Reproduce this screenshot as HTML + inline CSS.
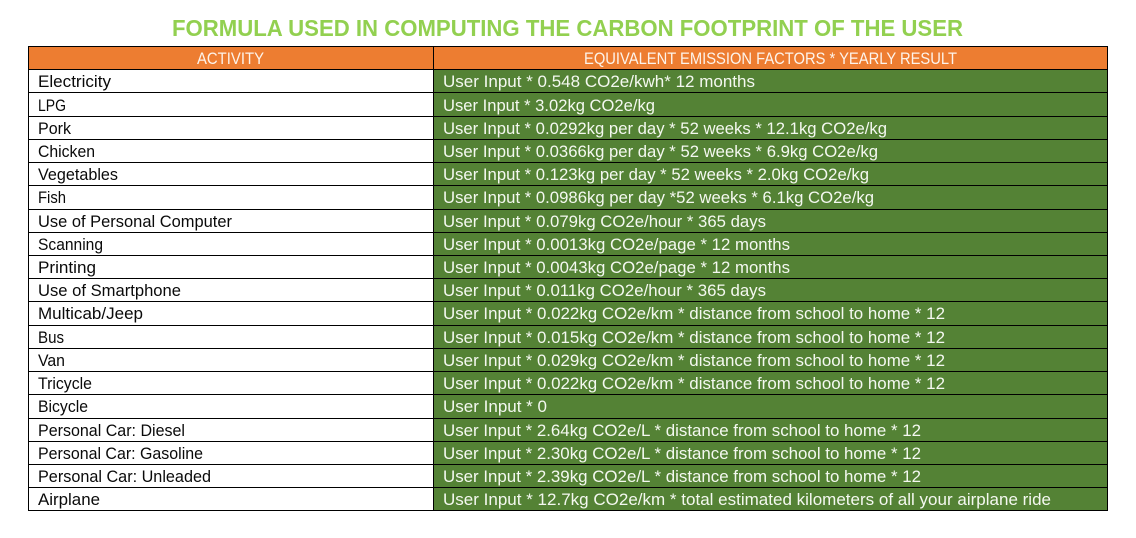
<!DOCTYPE html>
<html>
<head>
<meta charset="utf-8">
<title>Formula used in computing the carbon footprint of the user</title>
<style>
html,body{margin:0;padding:0;background:#fff;width:1136px;height:538px;overflow:hidden}
svg{display:block}
text{font-family:"Liberation Sans",sans-serif}
.t{font-size:17px;fill:#0a0a0a}
.f{font-size:17px;fill:#f4f8f0}
.h{font-size:17px;fill:#fdf3ea}
.line{stroke:#000;stroke-width:1;shape-rendering:crispEdges}
</style>
</head>
<body>
<svg xmlns="http://www.w3.org/2000/svg" width="1136" height="538" viewBox="0 0 1136 538">
<text x="172" y="36" font-size="23.5" font-weight="700" fill="#92d050" textLength="791" lengthAdjust="spacingAndGlyphs">FORMULA USED IN COMPUTING THE CARBON FOOTPRINT OF THE USER</text>

<rect x="28" y="46" width="1080" height="23" fill="#ed7d31"/>
<rect x="433" y="69" width="675" height="441" fill="#548235"/>

<g>
<line class="line" x1="28" x2="1108" y1="46.5" y2="46.5"/>
<line class="line" x1="28" x2="1108" y1="69.5" y2="69.5"/>
<line class="line" x1="28" x2="1108" y1="92.5" y2="92.5"/>
<line class="line" x1="28" x2="1108" y1="116.5" y2="116.5"/>
<line class="line" x1="28" x2="1108" y1="139.5" y2="139.5"/>
<line class="line" x1="28" x2="1108" y1="162.5" y2="162.5"/>
<line class="line" x1="28" x2="1108" y1="185.5" y2="185.5"/>
<line class="line" x1="28" x2="1108" y1="209.5" y2="209.5"/>
<line class="line" x1="28" x2="1108" y1="232.5" y2="232.5"/>
<line class="line" x1="28" x2="1108" y1="255.5" y2="255.5"/>
<line class="line" x1="28" x2="1108" y1="278.5" y2="278.5"/>
<line class="line" x1="28" x2="1108" y1="301.5" y2="301.5"/>
<line class="line" x1="28" x2="1108" y1="325.5" y2="325.5"/>
<line class="line" x1="28" x2="1108" y1="348.5" y2="348.5"/>
<line class="line" x1="28" x2="1108" y1="371.5" y2="371.5"/>
<line class="line" x1="28" x2="1108" y1="394.5" y2="394.5"/>
<line class="line" x1="28" x2="1108" y1="418.5" y2="418.5"/>
<line class="line" x1="28" x2="1108" y1="441.5" y2="441.5"/>
<line class="line" x1="28" x2="1108" y1="464.5" y2="464.5"/>
<line class="line" x1="28" x2="1108" y1="487.5" y2="487.5"/>
<line class="line" x1="28" x2="1108" y1="510.5" y2="510.5"/>
<line class="line" x1="28.5" x2="28.5" y1="46" y2="511"/>
<line class="line" x1="433.5" x2="433.5" y1="46" y2="511"/>
<line class="line" x1="1107.5" x2="1107.5" y1="46" y2="511"/>
</g>

<text class="h" x="197" y="64" textLength="67" lengthAdjust="spacingAndGlyphs">ACTIVITY</text>
<text class="h" x="584" y="64" textLength="373" lengthAdjust="spacingAndGlyphs">EQUIVALENT EMISSION FACTORS * YEARLY RESULT</text>

<g>
<text class="t" x="38" y="87" textLength="73" lengthAdjust="spacingAndGlyphs">Electricity</text>
<text class="t" x="38" y="111" textLength="28" lengthAdjust="spacingAndGlyphs">LPG</text>
<text class="t" x="38" y="134" textLength="33" lengthAdjust="spacingAndGlyphs">Pork</text>
<text class="t" x="38" y="157" textLength="57" lengthAdjust="spacingAndGlyphs">Chicken</text>
<text class="t" x="38" y="180" textLength="80" lengthAdjust="spacingAndGlyphs">Vegetables</text>
<text class="t" x="38" y="203" textLength="28" lengthAdjust="spacingAndGlyphs">Fish</text>
<text class="t" x="38" y="227" textLength="194" lengthAdjust="spacingAndGlyphs">Use of Personal Computer</text>
<text class="t" x="38" y="250" textLength="65" lengthAdjust="spacingAndGlyphs">Scanning</text>
<text class="t" x="38" y="273" textLength="58" lengthAdjust="spacingAndGlyphs">Printing</text>
<text class="t" x="38" y="296" textLength="143" lengthAdjust="spacingAndGlyphs">Use of Smartphone</text>
<text class="t" x="38" y="319" textLength="105" lengthAdjust="spacingAndGlyphs">Multicab/Jeep</text>
<text class="t" x="38" y="343" textLength="26" lengthAdjust="spacingAndGlyphs">Bus</text>
<text class="t" x="38" y="366" textLength="27" lengthAdjust="spacingAndGlyphs">Van</text>
<text class="t" x="38" y="389" textLength="54" lengthAdjust="spacingAndGlyphs">Tricycle</text>
<text class="t" x="38" y="412" textLength="50" lengthAdjust="spacingAndGlyphs">Bicycle</text>
<text class="t" x="38" y="436" textLength="147" lengthAdjust="spacingAndGlyphs">Personal Car: Diesel</text>
<text class="t" x="38" y="459" textLength="165" lengthAdjust="spacingAndGlyphs">Personal Car: Gasoline</text>
<text class="t" x="38" y="482" textLength="173" lengthAdjust="spacingAndGlyphs">Personal Car: Unleaded</text>
<text class="t" x="38" y="505" textLength="62" lengthAdjust="spacingAndGlyphs">Airplane</text>
</g>

<g>
<text class="f" x="443" y="87" textLength="312" lengthAdjust="spacingAndGlyphs">User Input * 0.548 CO2e/kwh* 12 months</text>
<text class="f" x="443" y="111" textLength="212" lengthAdjust="spacingAndGlyphs">User Input * 3.02kg CO2e/kg</text>
<text class="f" x="443" y="134" textLength="444" lengthAdjust="spacingAndGlyphs">User Input * 0.0292kg per day * 52 weeks * 12.1kg CO2e/kg</text>
<text class="f" x="443" y="157" textLength="435" lengthAdjust="spacingAndGlyphs">User Input * 0.0366kg per day * 52 weeks * 6.9kg CO2e/kg</text>
<text class="f" x="443" y="180" textLength="426" lengthAdjust="spacingAndGlyphs">User Input * 0.123kg per day * 52 weeks * 2.0kg CO2e/kg</text>
<text class="f" x="443" y="203" textLength="431" lengthAdjust="spacingAndGlyphs">User Input * 0.0986kg per day *52 weeks * 6.1kg CO2e/kg</text>
<text class="f" x="443" y="227" textLength="323" lengthAdjust="spacingAndGlyphs">User Input * 0.079kg CO2e/hour * 365 days</text>
<text class="f" x="443" y="250" textLength="347" lengthAdjust="spacingAndGlyphs">User Input * 0.0013kg CO2e/page * 12 months</text>
<text class="f" x="443" y="273" textLength="347" lengthAdjust="spacingAndGlyphs">User Input * 0.0043kg CO2e/page * 12 months</text>
<text class="f" x="443" y="296" textLength="323" lengthAdjust="spacingAndGlyphs">User Input * 0.011kg CO2e/hour * 365 days</text>
<text class="f" x="443" y="319" textLength="502" lengthAdjust="spacingAndGlyphs">User Input * 0.022kg CO2e/km * distance from school to home * 12</text>
<text class="f" x="443" y="343" textLength="502" lengthAdjust="spacingAndGlyphs">User Input * 0.015kg CO2e/km * distance from school to home * 12</text>
<text class="f" x="443" y="366" textLength="502" lengthAdjust="spacingAndGlyphs">User Input * 0.029kg CO2e/km * distance from school to home * 12</text>
<text class="f" x="443" y="389" textLength="502" lengthAdjust="spacingAndGlyphs">User Input * 0.022kg CO2e/km * distance from school to home * 12</text>
<text class="f" x="443" y="412" textLength="104" lengthAdjust="spacingAndGlyphs">User Input * 0</text>
<text class="f" x="443" y="436" textLength="478" lengthAdjust="spacingAndGlyphs">User Input * 2.64kg CO2e/L * distance from school to home * 12</text>
<text class="f" x="443" y="459" textLength="478" lengthAdjust="spacingAndGlyphs">User Input * 2.30kg CO2e/L * distance from school to home * 12</text>
<text class="f" x="443" y="482" textLength="478" lengthAdjust="spacingAndGlyphs">User Input * 2.39kg CO2e/L * distance from school to home * 12</text>
<text class="f" x="443" y="505" textLength="608" lengthAdjust="spacingAndGlyphs">User Input * 12.7kg CO2e/km * total estimated kilometers of all your airplane ride</text>
</g>
</svg>
</body>
</html>
